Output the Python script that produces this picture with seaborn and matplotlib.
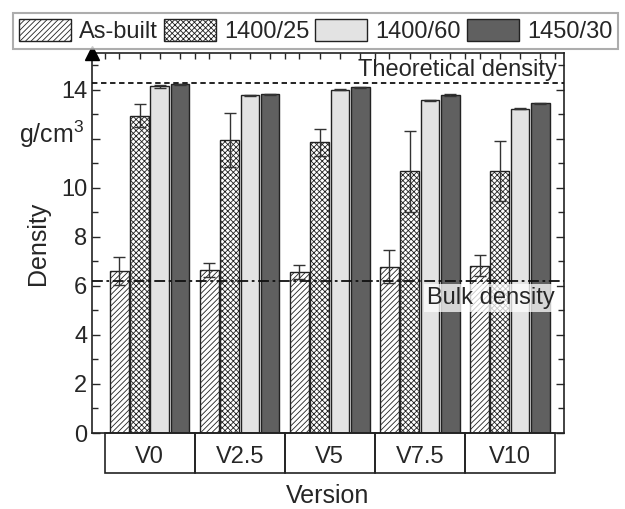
import matplotlib
matplotlib.use("Agg")
import matplotlib.pyplot as plt
from matplotlib.patches import Patch, Rectangle
from matplotlib.ticker import AutoMinorLocator, FixedLocator
import seaborn as sns
import pandas as pd

versions = ['V0', 'V2.5', 'V5', 'V7.5', 'V10']
conditions = ['As-built', '1400/25', '1400/60', '1450/30']
as_built = [6.61, 6.65, 6.57, 6.79, 6.82]
as_built_err = [0.57, 0.27, 0.30, 0.67, 0.43]
t1400_25 = [12.95, 11.95, 11.86, 10.67, 10.68]
t1400_25_err = [0.47, 1.10, 0.55, 1.65, 1.22]
t1400_60 = [14.14, 13.77, 14.00, 13.58, 13.22]
t1400_60_err = [0.05, 0.03, 0.02, 0.02, 0.02]
t1450_30 = [14.23, 13.82, 14.11, 13.78, 13.44]
t1450_30_err = [0.02, 0.02, 0.02, 0.05, 0.02]
y_ticks = [0, 2, 4, 6, 8, 10, 12, 14]
y_tick_labels = ['0', '2', '4', '6', '8', '10', '', '14']
theoretical_density = 14.29
bulk_density = 6.2

values = [as_built, t1400_25, t1400_60, t1450_30]
errors = [as_built_err, t1400_25_err, t1400_60_err, t1450_30_err]
rows = []
for c, vals in zip(conditions, values):
    for v, val in zip(versions, vals):
        rows.append({'Version': v, 'Density': val, 'Condition': c})
df = pd.DataFrame(rows)

sns.set_theme(style='ticks')
plt.rcParams['font.family'] = ['Liberation Sans', 'DejaVu Sans']
plt.rcParams['mathtext.fontset'] = 'custom'
plt.rcParams['mathtext.rm'] = 'Liberation Sans'
plt.rcParams['mathtext.it'] = 'Liberation Sans'
plt.rcParams['hatch.linewidth'] = 0.6
plt.rcParams['hatch.color'] = '#333333'

fig = plt.figure(figsize=(6.25, 5.09), dpi=100)
ax = fig.add_axes([0.1472, 0.1493, 0.7552, 0.7466])

palette = {'As-built': 'white', '1400/25': 'white', '1400/60': '#e3e3e3', '1450/30': '#606060'}
hatches = ['//////', 'xxxxxx', '', '']
sns.barplot(data=df, x='Version', y='Density', hue='Condition', hue_order=conditions,
            order=versions, palette=palette, width=0.9, gap=0.08, edgecolor='#222222',
            linewidth=1.0, errorbar=None, legend=False, ax=ax)

bar_containers = list(ax.containers)
bar_centers = []
for i, cont in enumerate(bar_containers):
    xs, ys = [], []
    for bar in cont.patches:
        bar.set_hatch(hatches[i])
        xs.append(bar.get_x() + bar.get_width() / 2)
        ys.append(bar.get_height())
    bar_centers.extend(xs)
    ax.errorbar(xs, ys, yerr=errors[i], fmt='none', ecolor='#333333',
                elinewidth=1.0, capsize=4, capthick=1.0, zorder=5)

ax.set_xlim(-0.64, 4.6)
ax.set_ylim(0, 15.5)
ax.set_yticks(y_ticks)
ax.set_yticklabels(y_tick_labels)
ax.yaxis.set_minor_locator(AutoMinorLocator(2))
ax.tick_params(axis='y', which='both', direction='in', left=True, right=True,
               labelsize=17, width=1.0)
ax.tick_params(axis='y', which='major', length=6)
ax.tick_params(axis='y', which='minor', length=4)
ax.tick_params(axis='x', which='major', length=0, pad=9, labelsize=17)
ax.xaxis.set_minor_locator(FixedLocator(sorted(bar_centers) + [k + 0.5 for k in range(-1, 5)]))
ax.tick_params(axis='x', which='minor', direction='in', top=True, bottom=False, length=4, width=1.0)
for s in ax.spines.values():
    s.set_linewidth(1.2)
    s.set_color('#222222')

ax.axhline(theoretical_density, color='#111111', ls=(0, (3, 2)), lw=1.3, zorder=6)
ax.axhline(bulk_density, color='#111111', ls=(0, (6, 2, 1.5, 2)), lw=1.3, zorder=6)
ax.text(0.985, 0.955, 'Theoretical density', transform=ax.transAxes, ha='right',
        va='center', fontsize=17, zorder=7)
ax.text(0.98, 0.355, 'Bulk density', transform=ax.transAxes, ha='right', va='center',
        fontsize=17, zorder=7,
        bbox=dict(facecolor='white', alpha=0.75, edgecolor='none', pad=2))

# category boxes under the axis
trans = ax.get_xaxis_transform()
for k in range(len(versions)):
    ax.add_patch(Rectangle((k - 0.5, -0.105), 1.0, 0.105, transform=trans,
                           facecolor='none', edgecolor='#222222', lw=1.2, clip_on=False))

ax.set_xlabel('Version', fontsize=18, labelpad=12)
ax.set_ylabel('Density', fontsize=18, labelpad=8)
ax.text(-0.155, 0.785, 'g/cm$^3$', transform=ax.transAxes, ha='left', va='center', fontsize=18)

# axis arrow at top of y axis
ax.plot([0], [1.0], marker='^', markersize=10, color='black', transform=ax.transAxes,
        clip_on=False, zorder=8)

handles = []
for i, c in enumerate(conditions):
    handles.append(Patch(facecolor=palette[c], edgecolor='#222222', hatch=hatches[i], lw=1.0))
leg = fig.legend(handles, conditions, ncol=4, loc='upper center', bbox_to_anchor=(0.505, 0.975),
                 fontsize=17, frameon=True, fancybox=False, edgecolor='#999999',
                 handlelength=2.2, handleheight=1.05, handletextpad=0.35, columnspacing=0.25,
                 borderpad=0.25, borderaxespad=0)
leg.get_frame().set_linewidth(1.5)

fig.savefig('out.png', dpi=100, facecolor='white')
